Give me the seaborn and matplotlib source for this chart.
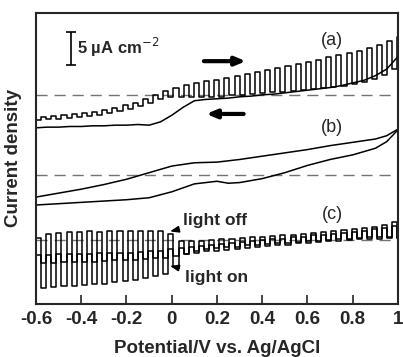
import numpy as np
import pandas as pd
import seaborn as sns
import matplotlib.pyplot as plt

# potential at the start of each light-chopping period (V vs Ag/AgCl)
chop_v = np.round(np.arange(-0.6, 1.0, 0.045), 3)
half = 0.0225

# (a) forward scan, chopped: dark and illuminated current (uA cm-2)
a_fwd_dark = [27.9, 28.0, 28.0, 28.2, 28.3, 28.5, 28.7, 29.0, 29.3, 29.6, 30.0, 30.5,
              31.0, 31.3, 31.4, 31.4, 31.3, 31.4, 31.4, 31.6, 31.7, 31.8, 31.9, 32.1,
              32.2, 32.3, 32.5, 32.6, 32.8, 32.9, 33.1, 33.4, 33.7, 34.1, 34.7, 35.6]
a_fwd_light = [28.4, 28.5, 28.6, 28.8, 28.9, 29.1, 29.4, 29.7, 30.1, 30.5, 31.0, 31.6,
               32.3, 32.8, 33.2, 33.5, 33.8, 34.0, 34.3, 34.6, 34.9, 35.2, 35.5, 35.8,
               36.1, 36.4, 36.7, 37.0, 37.4, 37.7, 38.0, 38.4, 38.8, 39.3, 39.8, 40.5]

# (a) reverse scan
a_rev_v = np.round(np.arange(-0.6, 1.001, 0.05), 2)
a_rev = [26.7, 26.8, 26.8, 26.9, 26.9, 27.0, 27.0, 27.1, 27.1, 27.2, 27.1, 27.6,
         28.6, 29.8, 30.8, 31.0, 31.1, 31.2, 31.4, 31.5, 31.7, 31.8, 32.0, 32.2,
         32.4, 32.6, 32.8, 33.1, 33.5, 33.9, 34.6, 35.6, 37.5]

# (b) dark scan, two branches
b_up_v = [-0.6, -0.5, -0.4, -0.3, -0.2, -0.1, 0.0, 0.1, 0.2, 0.3, 0.4, 0.5, 0.6,
          0.7, 0.8, 0.9, 0.95, 1.0]
b_up = [16.2, 16.8, 17.4, 18.1, 18.9, 19.9, 20.9, 21.4, 21.5, 21.9, 22.4, 22.9, 23.4,
        24.0, 24.5, 25.0, 25.5, 26.5]
b_low_v = [-0.6, -0.5, -0.4, -0.3, -0.2, -0.1, 0.0, 0.1, 0.2, 0.25, 0.3, 0.4, 0.5,
           0.6, 0.7, 0.8, 0.9, 0.95, 1.0]
b_low = [15.0, 15.2, 15.4, 15.6, 15.8, 16.1, 17.0, 18.2, 18.6, 18.3, 18.4, 19.0, 19.9,
         21.0, 21.9, 22.6, 23.6, 24.6, 26.4]

# (c) chopped scans
c1_off = [10.0, 10.6, 10.8, 10.9, 10.9, 11.0, 10.9, 11.0, 11.0, 11.1, 11.0, 11.1,
          11.0, 10.6, 9.6, 9.5, 9.6, 9.7, 9.8, 9.9, 10.0, 10.1, 10.2, 10.3,
          10.4, 10.5, 10.6, 10.8, 10.9, 11.0, 11.2, 11.3, 11.5, 11.7, 12.0, 12.4]
c1_on = [2.4, 2.6, 2.7, 2.8, 2.9, 3.0, 3.1, 3.3, 3.5, 3.7, 3.9, 4.2,
         4.6, 5.6, 7.6, 8.1, 8.3, 8.5, 8.6, 8.7, 8.9, 9.0, 9.1, 9.2,
         9.3, 9.4, 9.5, 9.6, 9.7, 9.8, 9.9, 10.0, 10.1, 10.1, 10.2, 10.0]
c2_off = [7.4, 7.4, 7.5, 7.5, 7.6, 7.6, 7.7, 7.7, 7.8, 7.8, 7.9, 8.0,
          8.1, 8.3, 8.5, 8.7, 8.8, 9.0, 9.1, 9.3, 9.4, 9.5, 9.7, 9.8,
          9.9, 10.1, 10.2, 10.4, 10.5, 10.6, 10.8, 10.9, 11.1, 11.3, 11.5, 11.8]
c2_on = [6.2, 6.2, 6.3, 6.3, 6.4, 6.4, 6.5, 6.6, 6.6, 6.7, 6.8, 6.9,
         7.0, 7.3, 7.6, 7.8, 8.0, 8.1, 8.2, 8.4, 8.5, 8.6, 8.8, 8.9,
         9.0, 9.2, 9.3, 9.4, 9.5, 9.6, 9.7, 9.8, 9.9, 9.9, 10.0, 10.0]

zero_lines = [31.7, 19.5, 9.7]
xticks = [-0.6, -0.4, -0.2, 0, 0.2, 0.4, 0.6, 0.8, 1.0]
xticklabels = ['-0.6', '-0.4', '-0.2', '0', '0.2', '0.4', '0.6', '0.8', '1']


def chopped(v, first, second):
    x, y = [], []
    for vi, p, q in zip(v, first, second):
        x += [vi, vi + half]
        y += [p, q]
    x.append(v[-1] + 2 * half)
    y.append(first[-1])
    return pd.DataFrame({'E': x, 'j': y})


sns.set_style('ticks')
plt.rcParams['font.family'] = ['Liberation Sans', 'DejaVu Sans']

fig, ax = plt.subplots(figsize=(4.03, 3.57), dpi=100)
fig.subplots_adjust(left=0.0893, right=0.9876, top=0.9636, bottom=0.1485)

for y0 in zero_lines:
    ax.axhline(y0, color='0.45', lw=1.0, ls=(0, (8, 5)), zorder=1)

kw = dict(color='black', lw=1.1, estimator=None, sort=False, ax=ax, legend=False)
sns.lineplot(data=chopped(chop_v, a_fwd_dark, a_fwd_light), x='E', y='j',
             drawstyle='steps-post', **kw)
sns.lineplot(x=a_rev_v, y=a_rev, **kw)
sns.lineplot(x=b_up_v, y=b_up, **kw)
sns.lineplot(x=b_low_v, y=b_low, **kw)
sns.lineplot(data=chopped(chop_v, c1_off, c1_on), x='E', y='j',
             drawstyle='steps-post', **kw)
sns.lineplot(data=chopped(chop_v, c2_off, c2_on), x='E', y='j',
             drawstyle='steps-post', **kw)

# scan direction arrows
ax.annotate('', xy=(0.34, 36.8), xytext=(0.13, 36.8),
            arrowprops=dict(arrowstyle='-|>,head_length=0.6,head_width=0.25', lw=3, color='black'))
ax.annotate('', xy=(0.14, 28.8), xytext=(0.33, 28.8),
            arrowprops=dict(arrowstyle='-|>,head_length=0.6,head_width=0.25', lw=3, color='black'))

# scale bar
ax.errorbar([-0.445], [38.7], yerr=[[2.5], [2.5]], color='black', lw=1.2, capsize=3.5, capthick=1.2)
ax.text(-0.42, 38.9, '5 µA cm$^{-2}$', fontsize=12, fontweight='bold', va='center', ha='left')

ax.text(0.71, 39.9, '(a)', fontsize=13, ha='center', va='center')
ax.text(0.71, 26.8, '(b)', fontsize=13, ha='center', va='center')
ax.text(0.71, 13.5, '(c)', fontsize=13, ha='center', va='center')

ax.annotate('light off', xy=(-0.02, 10.9), xytext=(0.05, 12.6), fontsize=12.5, fontweight='bold',
            va='center', ha='left',
            arrowprops=dict(arrowstyle='-|>,head_length=0.4,head_width=0.15', lw=1.2, color='black'))
ax.annotate('light on', xy=(-0.02, 5.9), xytext=(0.06, 4.0), fontsize=12.5, fontweight='bold',
            va='center', ha='left',
            arrowprops=dict(arrowstyle='-|>,head_length=0.4,head_width=0.15', lw=1.2, color='black'))

ax.set_xlim(-0.6, 1.0)
ax.set_ylim(0, 44.1)
ax.set_yticks([])
ax.set_xticks(xticks)
ax.set_xticklabels(xticklabels, fontsize=13.5, fontweight='bold')
ax.tick_params(axis='x', direction='in', length=6.5, width=1.2, pad=5)
for s in ax.spines.values():
    s.set_linewidth(1.5)
ax.set_xlabel('Potential/V vs. Ag/AgCl', fontsize=13.5, fontweight='bold', labelpad=9)
ax.set_ylabel('Current density', fontsize=13.5, fontweight='bold', labelpad=10)

fig.savefig('out.png', dpi=100)
